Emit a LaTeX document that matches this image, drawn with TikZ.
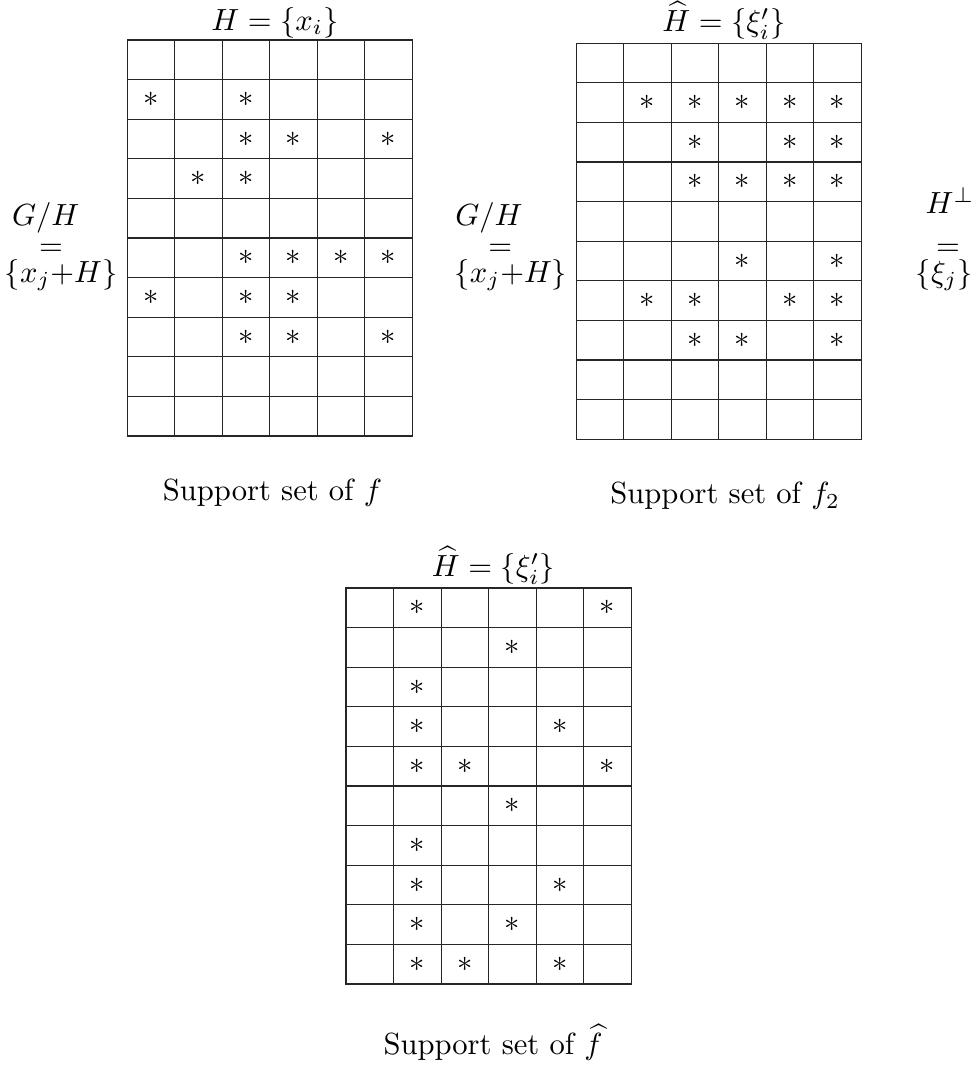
\documentclass[tikz,border=0pt]{standalone}
\usepackage{amsmath}
\usetikzlibrary{positioning}

\begin{document}
\begin{tikzpicture}[x=0.455cm, y=0.455cm,
  cellgrid/.style={draw=black!85, line width=0.4pt},
  star/.style={inner sep=0pt},
  lab/.style={inner sep=0pt, anchor=base},
  captext/.style={inner sep=0pt, anchor=base west}]
\useasboundingbox (0,0) rectangle (24.697,-26.97);

% support of f
\begin{scope}[shift={(3.21,-1.01)}]
  \draw[cellgrid] (0,0) grid[xstep=1.2, ystep=1] (7.2,-10) (0,0) rectangle (7.2,-10);
  \foreach \cx/\ry in {1/2,3/2, 3/3,4/3,6/3, 2/4,3/4, 3/6,4/6,5/6,6/6,
                       1/7,3/7,4/7, 3/8,4/8,6/8}
    \node[star] (fa-\cx-\ry) at (1.2*\cx-0.6, 0.5-\ry) {$*$};
\end{scope}

% support of f_2
\begin{scope}[shift={(14.55,-1.09)}]
  \draw[cellgrid] (0,0) grid[xstep=1.2, ystep=1] (7.2,-10) (0,0) rectangle (7.2,-10);
  \foreach \cx/\ry in {2/2,3/2,4/2,5/2,6/2, 3/3,5/3,6/3, 3/4,4/4,5/4,6/4,
                       4/6,6/6, 2/7,3/7,5/7,6/7, 3/8,4/8,6/8}
    \node[star] (fb-\cx-\ry) at (1.2*\cx-0.6, 0.5-\ry) {$*$};
\end{scope}

% support of \hat f
\begin{scope}[shift={(8.74,-14.85)}]
  \draw[cellgrid] (0,0) grid[xstep=1.2, ystep=1] (7.2,-10) (0,0) rectangle (7.2,-10);
  \foreach \cx/\ry in {2/1,6/1, 4/2, 2/3, 2/4,5/4, 2/5,3/5,6/5, 4/6, 2/7,
                       2/8,5/8, 2/9,4/9, 2/10,3/10,5/10}
    \node[star] (fc-\cx-\ry) at (1.2*\cx-0.6, 0.5-\ry) {$*$};
\end{scope}

% titles
\node[lab] (ta) at (6.94,-0.76) {$H=\{x_i\}$};
\node[lab] (tb) at (18.28,-0.80) {$\widehat{H}=\{\xi'_i\}$};
\node[lab] (tc) at (12.46,-14.56) {$\widehat{H}=\{\xi'_i\}$};

% side labels
\node[lab, anchor=base west] (qa1) at (0.29,-5.69) {$G/H$};
\node[lab] (qa2) at (1.29,-6.46) {$=$};
\node[lab, anchor=base east] (qa3) at (2.98,-7.13) {$\{x_j{+}H\}$};
\node[lab, anchor=base east] (qb1) at (13.21,-5.69) {$G/H$};
\node[lab] (qb2) at (12.63,-6.46) {$=$};
\node[lab, anchor=base east] (qb3) at (14.34,-7.13) {$\{x_j{+}H\}$};
\node[lab, anchor=base west] (hp1) at (23.36,-5.39) {$H^{\perp}$};
\node[lab] (hp2) at (23.94,-6.46) {$=$};
\node[lab, anchor=base west] (hp3) at (23.11,-7.13) {$\{\xi_j\}$};

% captions
\node[captext] (ca) at (4.10,-12.63) {Support set of $f$};
\node[captext] (cb) at (15.40,-12.72) {Support set of $f_2$};
\node[captext] (cc) at (9.67,-26.64) {Support set of $\widehat{f}$};
\end{tikzpicture}
\end{document}
